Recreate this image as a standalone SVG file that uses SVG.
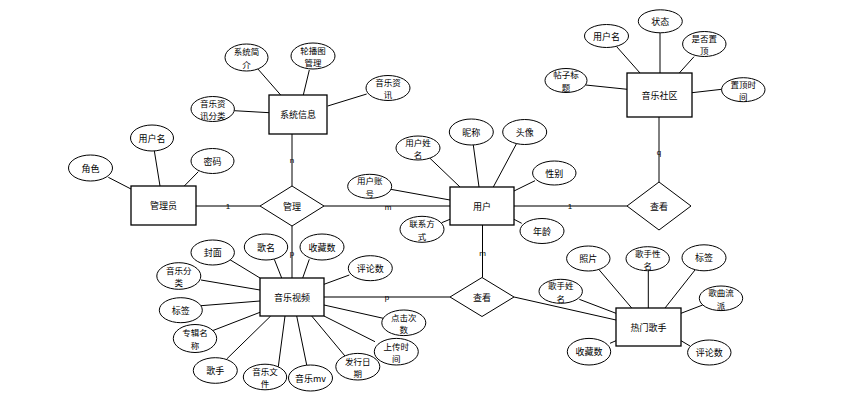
<svg xmlns="http://www.w3.org/2000/svg" width="850" height="404" viewBox="0 0 850 404">
<style>
text{font-family:"Noto Sans CJK SC","Liberation Sans",sans-serif;font-size:9px;fill:#000;text-anchor:middle;dominant-baseline:central}
text.t2{font-size:8.5px}
.ent rect{fill:#fff;stroke:#000;stroke-width:1.3}
.att ellipse{fill:#fff;stroke:#000;stroke-width:1}
.rel polygon{fill:#fff;stroke:#000;stroke-width:1}
.ln{stroke:#000;stroke-width:1;fill:none}
.rl{stroke:#7a7a7a;stroke-width:2;fill:none}
.card{font-size:8px;font-family:"Liberation Sans",sans-serif}
</style>
<rect width="850" height="404" fill="#fff"/>
<g id="connectors">
<line class="ln" x1="257.3" y1="68.3" x2="280.7" y2="95"/>
<line class="ln" x1="309.3" y1="70" x2="303.3" y2="95"/>
<line class="ln" x1="366.7" y1="94" x2="327.7" y2="106"/>
<line class="ln" x1="234.3" y1="110.7" x2="269.3" y2="112.7"/>
<line class="ln" x1="154.3" y1="150.7" x2="160" y2="186"/>
<line class="ln" x1="108.3" y1="177.3" x2="131" y2="189"/>
<line class="ln" x1="198.3" y1="171.7" x2="184.3" y2="186"/>
<line class="ln" x1="430" y1="158.3" x2="460" y2="187"/>
<line class="ln" x1="473.3" y1="145" x2="479" y2="187"/>
<line class="ln" x1="516.7" y1="143.3" x2="493.3" y2="187"/>
<line class="ln" x1="535" y1="180.7" x2="514" y2="191"/>
<line class="ln" x1="390.7" y1="189.3" x2="450" y2="200"/>
<line class="ln" x1="441.7" y1="222.7" x2="450" y2="219.3"/>
<line class="ln" x1="521.7" y1="223.3" x2="514" y2="219.3"/>
<line class="ln" x1="616.7" y1="46.7" x2="640" y2="73"/>
<line class="ln" x1="660" y1="32.7" x2="660" y2="73"/>
<line class="ln" x1="694" y1="56.7" x2="679.3" y2="73"/>
<line class="ln" x1="585.7" y1="85" x2="627.3" y2="89.3"/>
<line class="ln" x1="721.7" y1="89.3" x2="692" y2="92.7"/>
<line class="ln" x1="599.3" y1="270" x2="631.7" y2="308"/>
<line class="ln" x1="648.3" y1="270.7" x2="648.3" y2="308"/>
<line class="ln" x1="695" y1="270" x2="665" y2="308"/>
<line class="ln" x1="702.7" y1="305" x2="681" y2="313.3"/>
<line class="ln" x1="579.3" y1="299.3" x2="616" y2="313.3"/>
<line class="ln" x1="610" y1="343.3" x2="616" y2="340.7"/>
<line class="ln" x1="690" y1="346" x2="681" y2="340.7"/>
<line class="ln" x1="229.3" y1="259.3" x2="260" y2="278"/>
<line class="ln" x1="274.3" y1="259.3" x2="281.7" y2="278"/>
<line class="ln" x1="309.3" y1="259.3" x2="302.7" y2="278"/>
<line class="ln" x1="349.3" y1="275" x2="324" y2="284.3"/>
<line class="ln" x1="201" y1="280" x2="260" y2="290"/>
<line class="ln" x1="201" y1="305.7" x2="260" y2="301"/>
<line class="ln" x1="211.7" y1="331" x2="260" y2="312.3"/>
<line class="ln" x1="226.7" y1="359" x2="270.7" y2="316"/>
<line class="ln" x1="278.3" y1="366.7" x2="285" y2="316"/>
<line class="ln" x1="306.7" y1="365" x2="296.7" y2="316"/>
<line class="ln" x1="348.3" y1="360" x2="311.7" y2="316"/>
<line class="ln" x1="375" y1="341.7" x2="324" y2="316"/>
<line class="ln" x1="383.3" y1="318.3" x2="324" y2="305"/>
<line class="rl" x1="196" y1="206" x2="260" y2="206"/>
<line class="rl" x1="324" y1="206" x2="450" y2="206"/>
<line class="rl" x1="514" y1="206" x2="627" y2="206"/>
<line class="ln" x1="659" y1="182" x2="659" y2="117"/>
<line class="ln" x1="292" y1="134" x2="292" y2="186"/>
<line class="ln" x1="292" y1="226" x2="292" y2="278"/>
<line class="ln" x1="482.5" y1="225" x2="482.5" y2="277.5"/>
<line class="rl" x1="450" y1="297" x2="324" y2="297"/>
<line class="ln" x1="514" y1="297" x2="616" y2="320"/>
<text class="card" x="228" y="206">1</text>
<text class="card" x="388" y="207">m</text>
<text class="card" x="570" y="206">1</text>
<text class="card" x="659" y="152">q</text>
<text class="card" x="292" y="160">n</text>
<text class="card" x="292" y="253">p</text>
<text class="card" x="482.5" y="253">m</text>
<text class="card" x="387" y="297">p</text>
</g>
<g id="sysinfo" class="ent"><rect x="269" y="95" width="58" height="39"/><text x="298" y="114.5">系统信息</text></g>
<g id="admin" class="ent"><rect x="131" y="186" width="65" height="39"/><text x="163.5" y="205.5">管理员</text></g>
<g id="user" class="ent"><rect x="450" y="187" width="64" height="38"/><text x="482" y="206">用户</text></g>
<g id="community" class="ent"><rect x="627" y="73" width="65" height="44"/><text x="659.5" y="95">音乐社区</text></g>
<g id="video" class="ent"><rect x="260" y="278" width="64" height="38"/><text x="292" y="297">音乐视频</text></g>
<g id="singer" class="ent"><rect x="616" y="308" width="65" height="38"/><text x="648.5" y="327">热门歌手</text></g>
<g id="manage" class="rel"><polygon points="260,206 292,186 324,206 292,226"/><text x="292" y="206">管理</text></g>
<g id="view1" class="rel"><polygon points="627,206 659,182 691,206 659,230"/><text x="659" y="206">查看</text></g>
<g id="view2" class="rel"><polygon points="450,297 482,277.5 514,297 482,316.5"/><text x="482" y="297">查看</text></g>
<g id="a-sysintro" class="att"><ellipse cx="246.5" cy="57.5" rx="21.5" ry="13.5"/><text class="t2" x="246.5" y="51.3">系统简</text><text class="t2" x="246.5" y="63.7">介</text></g>
<g id="a-carousel" class="att"><ellipse cx="313" cy="56" rx="22" ry="13"/><text class="t2" x="313" y="49.8">轮播图</text><text class="t2" x="313" y="62.2">管理</text></g>
<g id="a-news" class="att"><ellipse cx="388" cy="88" rx="22" ry="12.5"/><text class="t2" x="388" y="81.8">音乐资</text><text class="t2" x="388" y="94.2">讯</text></g>
<g id="a-newscat" class="att"><ellipse cx="212.7" cy="109" rx="21.7" ry="12.5"/><text class="t2" x="212.7" y="102.8">音乐资</text><text class="t2" x="212.7" y="115.2">讯分类</text></g>
<g id="a-admin-name" class="att"><ellipse cx="152" cy="138" rx="21.5" ry="13"/><text x="152" y="138">用户名</text></g>
<g id="a-role" class="att"><ellipse cx="90.5" cy="168" rx="22" ry="13"/><text x="90.5" y="168">角色</text></g>
<g id="a-pwd" class="att"><ellipse cx="212.5" cy="161" rx="21.5" ry="12.5"/><text x="212.5" y="161">密码</text></g>
<g id="a-realname" class="att"><ellipse cx="418" cy="148" rx="22" ry="12"/><text class="t2" x="418" y="141.8">用户姓</text><text class="t2" x="418" y="154.2">名</text></g>
<g id="a-nick" class="att"><ellipse cx="471.3" cy="132" rx="22" ry="13"/><text x="471.3" y="132">昵称</text></g>
<g id="a-avatar" class="att"><ellipse cx="524.7" cy="132" rx="22" ry="12.5"/><text x="524.7" y="132">头像</text></g>
<g id="a-gender" class="att"><ellipse cx="554.3" cy="173" rx="21.7" ry="12"/><text x="554.3" y="173">性别</text></g>
<g id="a-account" class="att"><ellipse cx="369.7" cy="186.3" rx="22" ry="12"/><text class="t2" x="369.7" y="180.1">用户账</text><text class="t2" x="369.7" y="192.5">号</text></g>
<g id="a-contact" class="att"><ellipse cx="422" cy="229.3" rx="22" ry="13"/><text class="t2" x="422" y="223.1">联系方</text><text class="t2" x="422" y="235.5">式</text></g>
<g id="a-age" class="att"><ellipse cx="542" cy="231" rx="22" ry="12.5"/><text x="542" y="231">年龄</text></g>
<g id="a-post-user" class="att"><ellipse cx="606.5" cy="36" rx="22" ry="11.5"/><text x="606.5" y="36">用户名</text></g>
<g id="a-state" class="att"><ellipse cx="660.3" cy="21.3" rx="22" ry="11.5"/><text x="660.3" y="21.3">状态</text></g>
<g id="a-top" class="att"><ellipse cx="704.3" cy="44" rx="21.7" ry="12.5"/><text class="t2" x="704.3" y="37.8">是否置</text><text class="t2" x="704.3" y="50.2">顶</text></g>
<g id="a-title" class="att"><ellipse cx="566" cy="80.5" rx="21" ry="12"/><text class="t2" x="566" y="74.3">帖子标</text><text class="t2" x="566" y="86.7">题</text></g>
<g id="a-toptime" class="att"><ellipse cx="743.3" cy="89.7" rx="21.7" ry="12"/><text class="t2" x="743.3" y="83.5">置顶时</text><text class="t2" x="743.3" y="95.9">间</text></g>
<g id="a-photo" class="att"><ellipse cx="588.3" cy="258.5" rx="21.7" ry="12.5"/><text x="588.3" y="258.5">照片</text></g>
<g id="a-singer-gender" class="att"><ellipse cx="647.7" cy="258.7" rx="21.7" ry="12"/><text class="t2" x="647.7" y="252.5">歌手性</text><text class="t2" x="647.7" y="264.9">名</text></g>
<g id="a-s-tag" class="att"><ellipse cx="704" cy="257.8" rx="22" ry="13"/><text x="704" y="257.8">标签</text></g>
<g id="a-genre" class="att"><ellipse cx="721" cy="298.3" rx="21.7" ry="12.3"/><text class="t2" x="721" y="292.1">歌曲流</text><text class="t2" x="721" y="304.5">派</text></g>
<g id="a-singer-name" class="att"><ellipse cx="560.7" cy="291.3" rx="21.7" ry="12"/><text class="t2" x="560.7" y="285.1">歌手姓</text><text class="t2" x="560.7" y="297.5">名</text></g>
<g id="a-s-fav" class="att"><ellipse cx="589" cy="351.7" rx="21.7" ry="13.3"/><text x="589" y="351.7">收藏数</text></g>
<g id="a-s-comment" class="att"><ellipse cx="709.3" cy="352.5" rx="21.7" ry="12.5"/><text x="709.3" y="352.5">评论数</text></g>
<g id="a-cover" class="att"><ellipse cx="212.7" cy="252.5" rx="21.7" ry="12.5"/><text x="212.7" y="252.5">封面</text></g>
<g id="a-songname" class="att"><ellipse cx="266" cy="247" rx="21.7" ry="13"/><text x="266" y="247">歌名</text></g>
<g id="a-v-fav" class="att"><ellipse cx="322" cy="247" rx="22" ry="13"/><text x="322" y="247">收藏数</text></g>
<g id="a-v-comment" class="att"><ellipse cx="370.3" cy="268.2" rx="22" ry="12.5"/><text x="370.3" y="268.2">评论数</text></g>
<g id="a-category" class="att"><ellipse cx="178.8" cy="276" rx="22" ry="13.3"/><text class="t2" x="178.8" y="269.8">音乐分</text><text class="t2" x="178.8" y="282.2">类</text></g>
<g id="a-v-tag" class="att"><ellipse cx="180.8" cy="310.2" rx="21.5" ry="12.5"/><text x="180.8" y="310.2">标签</text></g>
<g id="a-album" class="att"><ellipse cx="195" cy="338.5" rx="21.7" ry="14"/><text class="t2" x="195" y="332.3">专辑名</text><text class="t2" x="195" y="344.7">称</text></g>
<g id="a-artist" class="att"><ellipse cx="215.3" cy="370.5" rx="22" ry="12.8"/><text x="215.3" y="370.5">歌手</text></g>
<g id="a-file" class="att"><ellipse cx="265" cy="377" rx="21.7" ry="12.8"/><text class="t2" x="265" y="370.8">音乐文</text><text class="t2" x="265" y="383.2">件</text></g>
<g id="a-mv" class="att"><ellipse cx="310.5" cy="378" rx="22" ry="13"/><text x="310.5" y="378">音乐mv</text></g>
<g id="a-release" class="att"><ellipse cx="357.8" cy="366.7" rx="22" ry="13.3"/><text class="t2" x="357.8" y="360.5">发行日</text><text class="t2" x="357.8" y="372.9">期</text></g>
<g id="a-upload" class="att"><ellipse cx="396.3" cy="351.7" rx="22" ry="13.3"/><text class="t2" x="396.3" y="345.5">上传时</text><text class="t2" x="396.3" y="357.9">间</text></g>
<g id="a-clicks" class="att"><ellipse cx="403.8" cy="322.8" rx="22" ry="12.8"/><text class="t2" x="403.8" y="316.6">点击次</text><text class="t2" x="403.8" y="329">数</text></g>
</svg>
